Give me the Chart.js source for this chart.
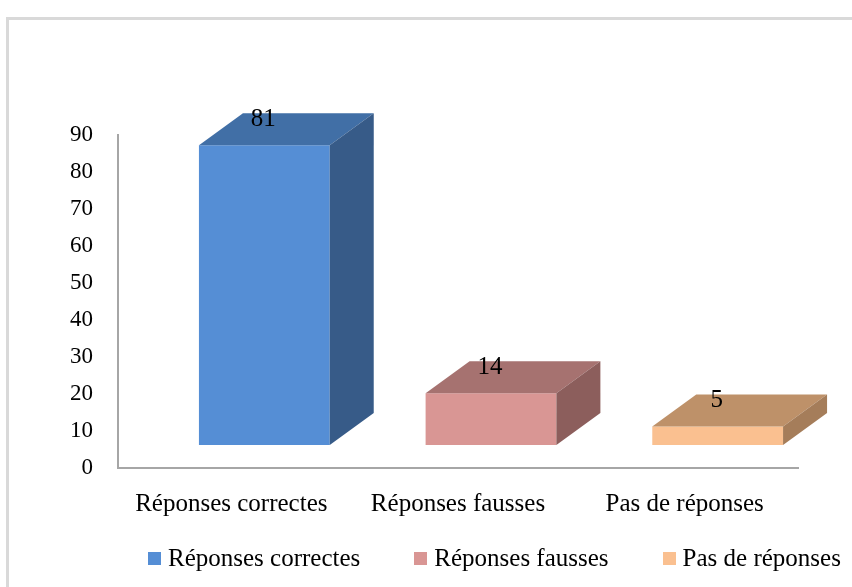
<!DOCTYPE html>
<html>
<head>
<meta charset="utf-8">
<script src="https://cdn.jsdelivr.net/npm/chart.js@4.4.1/dist/chart.umd.min.js"></script>
<style>
  html, body { margin: 0; padding: 0; background: #fff; overflow: hidden; }
  #wrap { position: relative; width: 852px; height: 587px; overflow: hidden; }
  #frame { position: absolute; left: 6px; top: 17px; width: 900px; height: 700px; border: 3px solid #d9d9d9; }
  #chart { position: absolute; left: 0; top: 0; }
  #legend { position: absolute; left: 148px; top: 544px; display: flex; white-space: nowrap;
            font-family: "Liberation Serif", "Times New Roman", serif; font-size: 25px; color: #000; }
  .item { display: flex; align-items: center; margin-right: 54px; }
  .box { width: 13px; height: 13px; margin-right: 7px; }
</style>
</head>
<body>
<div id="wrap">
  <div id="frame"></div>
  <canvas id="chart" width="852" height="587"></canvas>
  <div id="legend"></div>
</div>
<script>
const categories = ['Réponses correctes', 'Réponses fausses', 'Pas de réponses'];
const values = [81, 14, 5];
const yMin = 0;
const yMax = 90;
const yStep = 10;

const frontColors = ['#558ed5', '#d99694', '#fac090'];
const topColors = ['#416fa6', '#a67270', '#be9169'];
const sideColors = ['#375b88', '#8c5e5c', '#a57d5a'];

const FONT = "'Liberation Serif', 'Times New Roman', serif";
// 3d look: front face sits in front of the axis plane, box goes back by DEPTH
const SHIFT_X = 33, SHIFT_Y = 23;
const DEPTH_X = 44, DEPTH_Y = 32;

const box3d = {
  id: 'box3d',
  beforeDatasetDraw(chart) {
    chart.ctx.save();
    chart.ctx.translate(SHIFT_X, -SHIFT_Y);
  },
  afterDatasetDraw(chart) {
    chart.ctx.restore();
  },
  afterDatasetsDraw(chart) {
    const ctx = chart.ctx;
    chart.getDatasetMeta(0).data.forEach((bar, i) => {
      const l = bar.x - bar.width / 2 + SHIFT_X;
      const r = bar.x + bar.width / 2 + SHIFT_X;
      const t = bar.y - SHIFT_Y;
      const b = bar.base - SHIFT_Y;

      ctx.save();
      ctx.fillStyle = topColors[i];
      ctx.beginPath();
      ctx.moveTo(l, t);
      ctx.lineTo(r, t);
      ctx.lineTo(r + DEPTH_X, t - DEPTH_Y);
      ctx.lineTo(l + DEPTH_X, t - DEPTH_Y);
      ctx.closePath();
      ctx.fill();

      ctx.fillStyle = sideColors[i];
      ctx.beginPath();
      ctx.moveTo(r, t);
      ctx.lineTo(r + DEPTH_X, t - DEPTH_Y);
      ctx.lineTo(r + DEPTH_X, b - DEPTH_Y);
      ctx.lineTo(r, b);
      ctx.closePath();
      ctx.fill();

      ctx.fillStyle = '#000';
      ctx.font = `25px ${FONT}`;
      ctx.textAlign = 'center';
      ctx.textBaseline = 'middle';
      ctx.fillText(String(values[i]), (l + r) / 2 - 1, t - 26);
      ctx.restore();
    });
  },
};

const ctx = document.getElementById('chart');

new Chart(ctx, {
  type: 'bar',
  data: {
    labels: categories,
    datasets: [
      {
        data: values,
        backgroundColor: frontColors,
        borderWidth: 0,
        categoryPercentage: 1,
        barPercentage: 0.577,
      },
    ],
  },
  options: {
    responsive: false,
    animation: false,
    layout: { padding: { top: 135, right: 54, bottom: 59, left: 0 } },
    plugins: {
      legend: { display: false },
      tooltip: { enabled: false },
    },
    scales: {
      x: {
        grid: { display: false },
        border: { display: true, color: '#a6a6a6', width: 2 },
        ticks: { color: '#000', font: { family: FONT, size: 25 }, padding: 13, maxRotation: 0, autoSkip: false },
        afterFit(s) { s.height = 60; },
      },
      y: {
        min: yMin,
        max: yMax,
        grid: { display: false },
        border: { display: true, color: '#a6a6a6', width: 2 },
        ticks: { stepSize: yStep, color: '#000', font: { family: FONT, size: 23 }, padding: 17 },
        afterFit(s) { s.width = 118; },
      },
    },
  },
  plugins: [box3d],
});

// legend as html, built from the same arrays
const legend = document.getElementById('legend');
categories.forEach((name, i) => {
  const item = document.createElement('div');
  item.className = 'item';
  const sw = document.createElement('span');
  sw.className = 'box';
  sw.style.background = frontColors[i];
  const txt = document.createElement('span');
  txt.textContent = name;
  item.appendChild(sw);
  item.appendChild(txt);
  legend.appendChild(item);
});
</script>
</body>
</html>
